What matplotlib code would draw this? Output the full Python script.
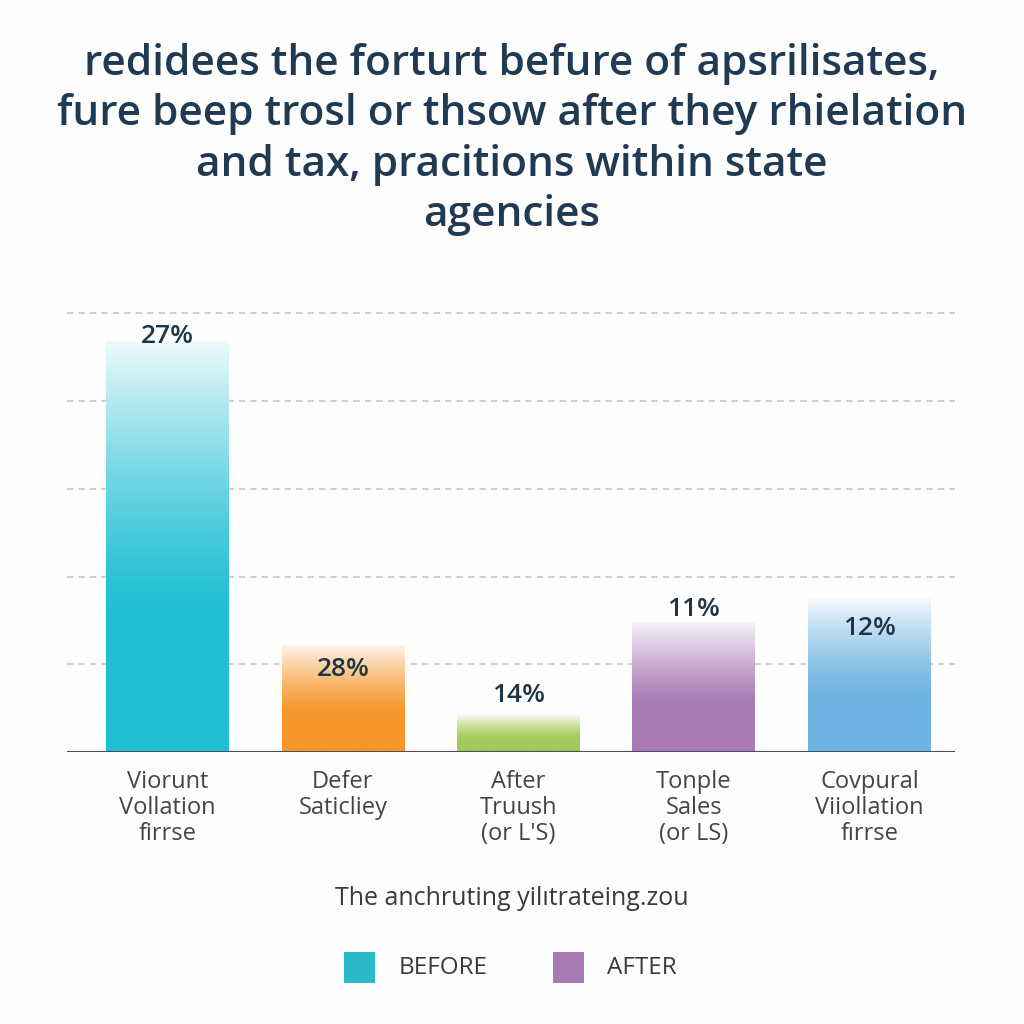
import numpy as np
import matplotlib
matplotlib.use("Agg")
import matplotlib.pyplot as plt
from matplotlib.colors import to_rgb

plt.rcParams['font.family'] = ['Open Sans', 'DejaVu Sans']

# ---- data ----
categories = ["Viorunt\nVollation\nfirrse", "Defer\nSaticliey", "After\nTruush\n(or L'S)",
              "Tonple\nSales\n(or LS)", "Covpural\nViiollation\nfırrse"]
heights = [23.4, 6.1, 2.1, 7.4, 8.75]
value_labels = ["27%", "28%", "14%", "11%", "12%"]
grid_values = [5, 10, 15, 20, 25]
legend_labels = ["BEFORE", "AFTER"]
title = ("redidees the forturt befure of apsrilisates,\n"
         "fure beep trosl or thsow after they rhielation\n"
         "and tax, pracitions within state\nagencies")
subtitle = "The anchruting yilıtrateing.zou"

# ---- style ----
bar_colors = ["#22BFD4", "#F7962A", "#A3CB5A", "#A97AB5", "#6DB3E2"]
legend_colors = ["#2BB9C9", "#A97AB5"]
label_offsets = [0.3, -1.4, 1.1, 0.7, -1.7]
bg = "#FDFDFD"

fig = plt.figure(figsize=(10.24, 10.24), dpi=100, facecolor=bg)
ax = fig.add_axes([0.065, 0.2656, 0.868, 0.449])
ax.set_facecolor(bg)
x = np.arange(len(categories))
ax.set_xlim(-0.575, 4.49)
ax.set_ylim(0, 26.2)

bars = ax.bar(x, heights, width=0.7, color="none", edgecolor="none", zorder=3)

n = 256
for rect, col in zip(bars, bar_colors):
    x0, y0 = rect.get_x(), rect.get_y()
    w, h = rect.get_width(), rect.get_height()
    t = np.linspace(0, 1, n)[:, None]  # 0 bottom .. 1 top
    fade = np.clip((t - 0.35) / 0.65, 0, 1) ** 1.3 * 0.92
    c = np.array(to_rgb(col))[None, None, :]
    img = c * (1 - fade[..., None]) + 1.0 * fade[..., None]
    img = np.repeat(img, 2, axis=1)
    im = ax.imshow(img, extent=[x0, x0 + w, y0, y0 + h], origin="lower",
                   aspect="auto", zorder=3, interpolation="bilinear")
    im.set_clip_path(rect)

for xi, h, lab, off in zip(x, heights, value_labels, label_offsets):
    ax.text(xi, h + off, lab, ha="center", va="center", fontsize=19,
            color="#1E3447", fontweight="semibold", zorder=5)

for g in grid_values:
    ax.axhline(g, color="#CFCFCF", lw=1.5, ls=(0, (3, 2.5)), zorder=1)

ax.axhline(0, color="#4A4F55", lw=2.2, zorder=4)

for s in ax.spines.values():
    s.set_visible(False)
ax.set_xticks(x)
ax.set_xticklabels(categories, fontsize=17, color="#454545", linespacing=1.12)
ax.tick_params(axis="x", length=0, pad=13)
ax.set_yticks([])

fig.text(0.5, 0.958, title, ha="center", va="top", fontsize=30.5,
         color="#1F3A52", fontweight="semibold", linespacing=1.26)

fig.text(0.5, 0.123, subtitle, ha="center", va="center", fontsize=18, color="#3A3A3A")

# legend
lx = [0.336, 0.540]
for px, col, lab in zip(lx, legend_colors, legend_labels):
    fig.patches.append(plt.Rectangle((px, 0.040), 0.030, 0.030, transform=fig.transFigure,
                                     facecolor=col, edgecolor="none"))
    fig.text(px + 0.053, 0.055, lab, ha="left", va="center", fontsize=17.5, color="#3A3A3A")

fig.savefig("out.png", dpi=100, facecolor=bg)
